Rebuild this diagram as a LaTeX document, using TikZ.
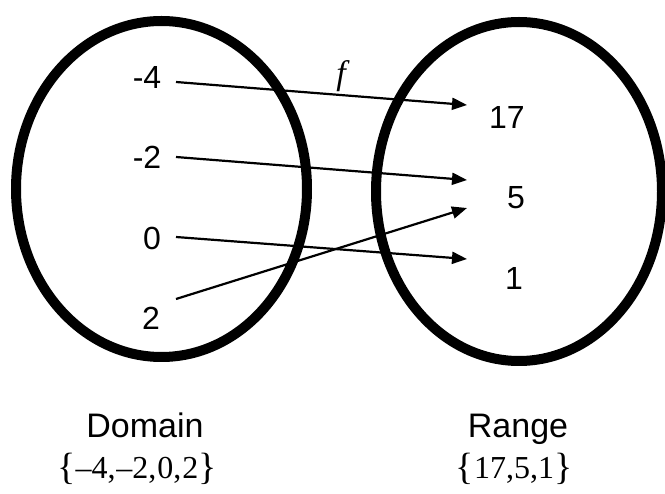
\documentclass[tikz,border=0pt]{standalone}
\usepackage{fontspec}
\setmainfont{Liberation Sans}
\newfontfamily\serifface{Liberation Serif}
\usetikzlibrary{arrows.meta}
\newcommand{\bigbr}[1]{{\fontsize{38}{40}\selectfont\raisebox{-1pt}{#1}}}
\begin{document}
\begin{tikzpicture}[x=1pt,y=-1pt,
  ring/.style={line width=10pt},
  num/.style={font=\fontsize{32}{38}\selectfont, inner sep=0pt},
  caplab/.style={font=\fontsize{34}{40}\selectfont, inner sep=0pt, anchor=base},
  setlab/.style={font=\serifface\fontsize{32}{38}\selectfont, inner sep=0pt, anchor=base},
  maparrow/.style={line width=2.2pt, -{Triangle[length=15pt,width=12pt]}}]
\useasboundingbox[fill=white] (0,0) rectangle (665,494);
% sets
\draw[ring] (161.5,189) ellipse [x radius=145.5pt, y radius=168pt];
\draw[ring] (519,191.5) ellipse [x radius=143pt, y radius=169.5pt];
% elements
\node[num] (m4) at (147,77) {-4};
\node[num] (m2) at (147,157) {-2};
\node[num] (z0) at (152,238) {0};
\node[num] (p2) at (151,318) {2};
\node[num] (r17) at (507,117) {17};
\node[num] (r5) at (516,198) {5};
\node[num] (r1) at (514,278) {1};
% arrow ends
\coordinate (s1) at (176,82);  \coordinate (t1) at (467,105);
\coordinate (s2) at (176,157); \coordinate (t2) at (467,180);
\coordinate (s3) at (176,237); \coordinate (t3) at (467,259);
\coordinate (s4) at (176,299); \coordinate (t4) at (467,208);
\draw[maparrow] (s1) -- (t1);
\draw[maparrow] (s2) -- (t2);
\draw[maparrow] (s3) -- (t3);
\draw[maparrow] (s4) -- (t4);
\node[font=\serifface\itshape\fontsize{34}{40}\selectfont, inner sep=0pt] (f) at (341,76) {f};
% labels
\node[caplab] (dom) at (145,438) {Domain};
\node[caplab] (rng) at (518,438) {Range};
\node[setlab] (dset) at (137,479) {\bigbr{\{}–4,\kern1pt–2,\kern1pt0,\kern1pt2\bigbr{\}}};
\node[setlab] (rset) at (514,479) {\bigbr{\{}17,5,1\bigbr{\}}};
\end{tikzpicture}
\end{document}
